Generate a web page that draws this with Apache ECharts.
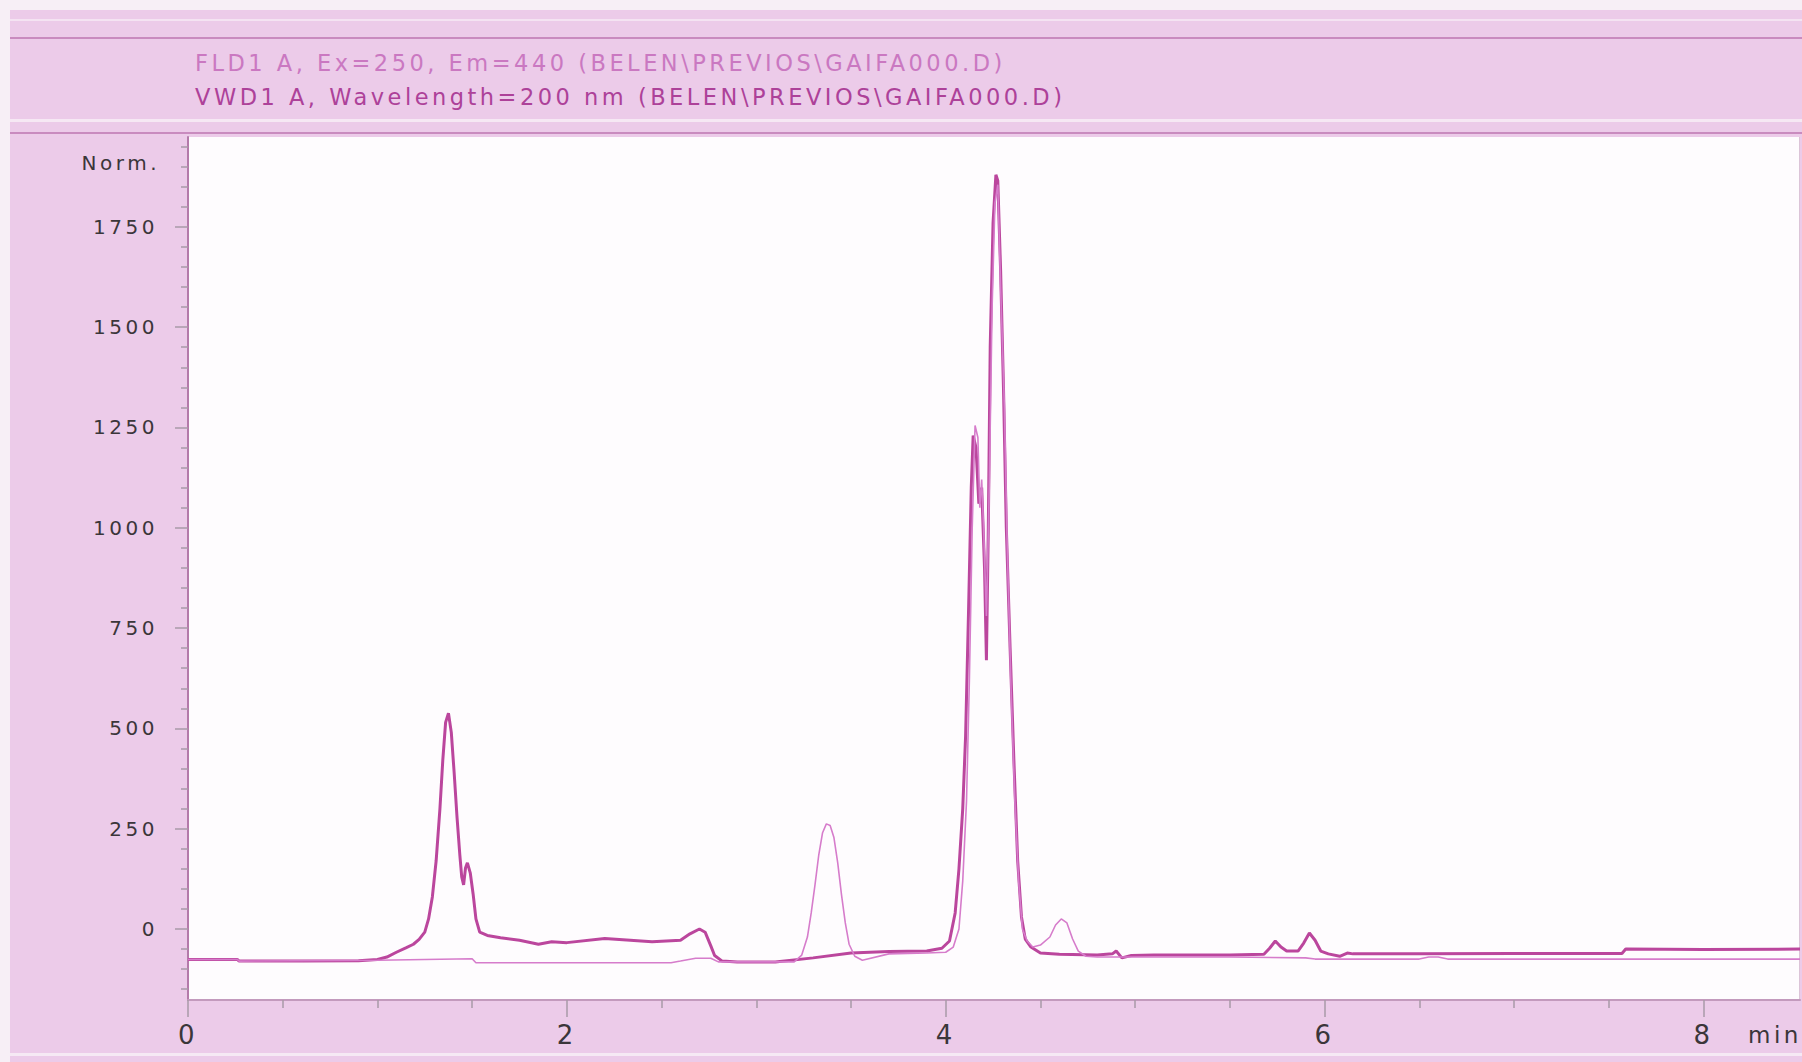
<!DOCTYPE html>
<html>
<head>
<meta charset="utf-8">
<script src="https://cdn.jsdelivr.net/npm/echarts@6/dist/echarts.min.js"></script>
<style>
  html, body { margin: 0; padding: 0; background: #eccbe9; }
  #chart { width: 1802px; height: 1062px; }
  /* wide, printer-like lettering */
  #chart text { letter-spacing: 3.5px; }
</style>
</head>
<body>
<div id="chart"></div>
<script>
// Signal headers
const titleLines = [
  'FLD1 A, Ex=250, Em=440 (BELEN\\PREVIOS\\GAIFA000.D)',
  'VWD1 A, Wavelength=200 nm (BELEN\\PREVIOS\\GAIFA000.D)'
];
const yAxisUnit = 'Norm.';
const xAxisUnit = 'min';

// FLD1 A trace (retention time in min, response in Norm.)
const fldTime = [
  0, 0.26, 0.27, 1.0, 1.5, 1.52, 2.55, 2.6, 2.68, 2.76,
  2.8, 3.2, 3.24, 3.27, 3.29, 3.31, 3.33, 3.35, 3.37, 3.39,
  3.41, 3.43, 3.45, 3.47, 3.49, 3.52, 3.56, 3.7, 3.9, 4.0,
  4.04, 4.07, 4.09, 4.11, 4.125, 4.14, 4.155, 4.17, 4.18, 4.19,
  4.2, 4.215, 4.23, 4.245, 4.26, 4.275, 4.29, 4.31, 4.325, 4.345,
  4.365, 4.385, 4.405, 4.43, 4.46, 4.5, 4.55, 4.58, 4.61, 4.64,
  4.67, 4.70, 4.74, 4.8, 5.0, 5.5, 5.9, 5.95, 6.5, 6.55,
  6.6, 6.65, 6.67, 7.5, 8.0, 8.51
];
const fldSignal = [
  -76, -76, -80, -78, -74, -84, -84, -80, -73, -73,
  -82, -82, -65, -20, 40, 110, 185, 240, 262, 258,
  228, 165, 85, 15, -38, -68, -78, -62, -60, -58,
  -45, 0, 120, 320, 620, 1000, 1255, 1225, 1050, 1120,
  1000, 780, 1100, 1550, 1810, 1855, 1600, 1300, 950, 600,
  320, 120, 0, -30, -45, -40, -20, 10, 25, 15,
  -25, -55, -68, -70, -70, -70, -72, -75, -75, -70,
  -70, -75, -75, -75, -75, -75
];

// VWD1 A trace
const vwdTime = [
  0, 0.26, 0.27, 0.6, 0.9, 1.0, 1.05, 1.1, 1.15, 1.19,
  1.22, 1.25, 1.27, 1.29, 1.31, 1.33, 1.345, 1.36, 1.375, 1.39,
  1.405, 1.42, 1.435, 1.445, 1.455, 1.465, 1.475, 1.49, 1.505, 1.52,
  1.54, 1.58, 1.65, 1.75, 1.85, 1.92, 2.0, 2.2, 2.45, 2.6,
  2.65, 2.70, 2.73, 2.76, 2.78, 2.82, 2.9, 3.1, 3.3, 3.5,
  3.7, 3.9, 3.98, 4.02, 4.05, 4.07, 4.09, 4.105, 4.12, 4.135,
  4.145, 4.16, 4.175, 4.19, 4.205, 4.215, 4.225, 4.235, 4.25, 4.265,
  4.275, 4.29, 4.305, 4.32, 4.34, 4.36, 4.38, 4.40, 4.42, 4.45,
  4.5, 4.6, 4.8, 4.88, 4.9, 4.93, 4.98, 5.1, 5.5, 5.68,
  5.71, 5.74, 5.77, 5.8, 5.86, 5.89, 5.92, 5.95, 5.98, 6.02,
  6.08, 6.12, 6.15, 6.5, 7.0, 7.57, 7.59, 8.0, 8.51
];
const vwdSignal = [
  -76, -76, -80, -80, -79, -76, -70, -58, -47, -38,
  -26, -8, 25, 80, 170, 300, 420, 515, 538, 490,
  390, 280, 185, 130, 110, 152, 165, 140, 88, 25,
  -8, -16, -22, -28, -38, -32, -34, -24, -32, -28,
  -12, 0, -8, -42, -66, -80, -82, -82, -72, -60,
  -56, -55, -48, -30, 40, 150, 300, 480, 780, 1100,
  1230, 1200, 1060, 1100, 900, 670, 1000, 1450, 1760, 1880,
  1865, 1640, 1350, 1000, 700, 420, 170, 30, -25, -45,
  -60, -63, -65, -62, -55, -72, -66, -65, -65, -63,
  -48, -30, -45, -55, -55, -35, -10, -28, -55, -62,
  -68, -60, -62, -62, -61, -61, -50, -51, -50
];

// Axis ticks and labels
const xLabelValues = [0, 2, 4, 6, 8];
const xMinorTickValues = [0.5, 1, 1.5, 2.5, 3, 3.5, 4.5, 5, 5.5, 6.5, 7, 7.5];
const yLabelValues = [0, 250, 500, 750, 1000, 1250, 1500, 1750];
const yMinorTickValues = [
  -150, -100, -50, 50, 100, 150, 200, 300, 350, 400, 450, 550, 600, 650, 700,
  800, 850, 900, 950, 1050, 1100, 1150, 1200, 1300, 1350, 1400, 1450,
  1550, 1600, 1650, 1700, 1800, 1850, 1900, 1950
];
const xRange = [0, 8.51];
const yRange = [-177, 1974];

const zip = (xs, ys) => xs.map((x, i) => [x, ys[i]]);
const plain = v => String(v);

const FONT = '"DejaVu Sans", sans-serif';
const PINK_LINE = '#c98bbf';
const TICK = '#a99aa7';
const LABEL = '#3b363a';

const chart = echarts.init(document.getElementById('chart'), null, { renderer: 'svg' });

const sharedX = {
  type: 'value', min: xRange[0], max: xRange[1], position: 'bottom',
  splitLine: { show: false }
};
const sharedY = {
  type: 'value', min: yRange[0], max: yRange[1], position: 'left',
  splitLine: { show: false }
};

chart.setOption({
  animation: false,
  backgroundColor: '#eccbe9',
  grid: {
    left: 188, right: 2, top: 137, bottom: 62,
    show: true, backgroundColor: '#fefcfe', borderWidth: 0
  },
  xAxis: [
    Object.assign({}, sharedX, {
      axisLine: { show: true, onZero: false, lineStyle: { color: '#c39abd', width: 2 } },
      axisTick: { show: true, customValues: xLabelValues, length: 17, lineStyle: { color: TICK, width: 1.5 } },
      axisLabel: {
        customValues: xLabelValues, margin: 22, formatter: plain,
        fontSize: 26, fontFamily: FONT, color: LABEL
      }
    }),
    Object.assign({}, sharedX, {
      axisLine: { show: false, onZero: false },
      axisTick: { show: true, customValues: xMinorTickValues, length: 8, lineStyle: { color: TICK, width: 1.5 } },
      axisLabel: { show: false }
    })
  ],
  yAxis: [
    Object.assign({}, sharedY, {
      axisLine: { show: true, onZero: false, lineStyle: { color: '#b47aaa', width: 2 } },
      axisTick: { show: true, customValues: yLabelValues, length: 13, lineStyle: { color: TICK, width: 1.5 } },
      axisLabel: {
        customValues: yLabelValues, margin: 30, formatter: plain,
        fontSize: 20, fontFamily: FONT, color: LABEL
      }
    }),
    Object.assign({}, sharedY, {
      axisLine: { show: false, onZero: false },
      axisTick: { show: true, customValues: yMinorTickValues, length: 7, lineStyle: { color: TICK, width: 1.5 } },
      axisLabel: { show: false }
    })
  ],
  series: [
    {
      name: titleLines[1], type: 'line', xAxisIndex: 0, yAxisIndex: 0,
      data: zip(vwdTime, vwdSignal), showSymbol: false, z: 2,
      lineStyle: { color: '#bb469d', width: 3 }
    },
    {
      name: titleLines[0], type: 'line', xAxisIndex: 0, yAxisIndex: 0,
      data: zip(fldTime, fldSignal), showSymbol: false, z: 3,
      lineStyle: { color: '#d67ccb', width: 1.6 }
    }
  ],
  graphic: [
    // page frame and header rules
    { type: 'rect', silent: true, shape: { x: 0, y: 0, width: 1802, height: 10 }, style: { fill: '#f7eff6' } },
    { type: 'rect', silent: true, shape: { x: 0, y: 0, width: 10, height: 1062 }, style: { fill: '#f7eff6' } },
    { type: 'rect', silent: true, shape: { x: 10, y: 19, width: 1792, height: 2 }, style: { fill: '#f4e3f2' } },
    { type: 'rect', silent: true, shape: { x: 10, y: 37, width: 1792, height: 2 }, style: { fill: PINK_LINE } },
    { type: 'rect', silent: true, shape: { x: 10, y: 119, width: 1792, height: 3 }, style: { fill: '#f6e8f4' } },
    { type: 'rect', silent: true, shape: { x: 10, y: 132, width: 1792, height: 2 }, style: { fill: PINK_LINE } },
    { type: 'rect', silent: true, shape: { x: 10, y: 1053, width: 1792, height: 3 }, style: { fill: '#f6e9f4' } },
    { type: 'rect', silent: true, shape: { x: 1799, y: 137, width: 1, height: 863 }, style: { fill: '#dcc4d8' } },
    // signal headers
    {
      type: 'text', silent: true,
      style: { text: titleLines[0], x: 195, y: 63, verticalAlign: 'middle',
               fontSize: 22.5, fontFamily: FONT, fill: '#ca78c1' }
    },
    {
      type: 'text', silent: true,
      style: { text: titleLines[1], x: 195, y: 97, verticalAlign: 'middle',
               fontSize: 22.5, fontFamily: FONT, fill: '#ad4199' }
    },
    // axis units
    {
      type: 'text', silent: true,
      style: { text: yAxisUnit, x: 160, y: 163, align: 'right', verticalAlign: 'middle',
               fontSize: 20, fontFamily: FONT, fill: LABEL }
    },
    {
      type: 'text', silent: true,
      style: { text: xAxisUnit, x: 1748, y: 1035, verticalAlign: 'middle',
               fontSize: 23, fontFamily: FONT, fill: LABEL }
    }
  ]
});
</script>
</body>
</html>
